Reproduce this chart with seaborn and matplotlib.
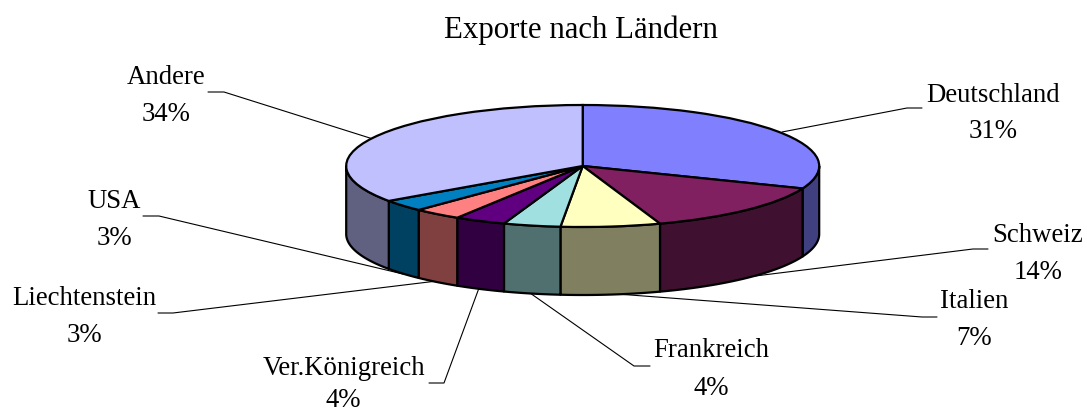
import numpy as np
import matplotlib
matplotlib.use("Agg")
import matplotlib.pyplot as plt
import seaborn as sns

# ---- data ----
countries = ["Deutschland", "Schweiz", "Italien", "Frankreich",
             "Ver.Königreich", "Liechtenstein", "USA", "Andere"]
shares = [31.0, 13.7, 6.8, 3.9, 3.5, 3.3, 3.1, 34.7]
share_labels = ["31%", "14%", "7%", "4%", "4%", "3%", "3%", "34%"]
title = "Exporte nach Ländern"

top_hex = ["#8080FF", "#802060", "#FFFFC0", "#A0E0E0",
           "#600080", "#FF8080", "#0080C0", "#C0C0FF"]

# ---- layout in pixels ----
W, H = 1087, 411
CX, CY, RX, RY, DEPTH = 582.7, 166.0, 236.5, 61.0, 68.0
# (x centre, name baseline, percent baseline)
label_xy = [(993, 101.5, 138), (1038, 242, 279), (974, 308, 345), (711.7, 357, 395),
            (343.7, 375, 407), (84.7, 305, 342), (114, 208, 245), (165.6, 84, 121)]
leaders = [
    [(782, 132), (907, 108), (922, 108)],
    [(747, 277), (973, 249), (988, 249)],
    [(617, 294), (922, 317), (937, 317)],
    [(530, 293), (634, 366), (650, 366)],
    [(479, 288), (444, 383), (429, 383)],
    [(437, 281), (173, 313), (158, 313)],
    [(403, 274), (159, 216), (143, 216)],
    [(373, 139), (224, 92), (208, 92)],
]

sns.set_theme(style="white")
plt.rcParams["font.family"] = ["Liberation Serif", "DejaVu Serif"]
top_colors = sns.color_palette(top_hex)
side_colors = [tuple(c * 0.5 for c in col) for col in top_colors]

fig = plt.figure(figsize=(W / 100, H / 100), dpi=100, facecolor="white")

# text + leader layer, in pixel coordinates, below the pie
ax_t = fig.add_axes([0, 0, 1, 1], zorder=1)
ax_t.set_xlim(0, W)
ax_t.set_ylim(H, 0)
ax_t.axis("off")
FS = 19.3
ax_t.text(581, 38, title, ha="center", va="baseline", fontsize=22.2, color="black")
for name, pct, (x, y0, y1), pts in zip(countries, share_labels, label_xy, leaders):
    ax_t.text(x, y0, name, ha="center", va="baseline", fontsize=FS, color="black")
    ax_t.text(x, y1, pct, ha="center", va="baseline", fontsize=FS, color="black")
    xs, ys = zip(*pts)
    ax_t.plot(xs, ys, color="black", lw=0.8, solid_joinstyle="miter")

# pie layer: one data unit is RX wide and RY tall, which flattens the circle
ax = fig.add_axes([0, 0, 1, 1], zorder=2)
ax.patch.set_alpha(0)

depth = DEPTH / RY
fracs = np.asarray(shares) / np.sum(shares)
edges = np.concatenate([[0], np.cumsum(fracs)]) * 2 * np.pi  # clockwise from 12 o'clock
for i, (a0, a1) in enumerate(zip(edges[:-1], edges[1:])):
    lo, hi = max(a0, np.pi / 2), min(a1, 3 * np.pi / 2)
    if hi <= lo:
        continue
    t = np.linspace(lo, hi, 80)
    px = np.sin(t)
    py = np.cos(t)
    ax.fill(np.r_[px, px[::-1]], np.r_[py, py[::-1] - depth],
            facecolor=side_colors[i], edgecolor="black", lw=1.6,
            joinstyle="round", zorder=1)

ax.pie(shares, colors=top_colors, startangle=90, counterclock=False,
       radius=1, center=(0, 0), frame=True,
       wedgeprops=dict(edgecolor="black", linewidth=1.6, zorder=2))
ax.set_aspect("auto")
ax.set_xlim(-CX / RX, (W - CX) / RX)
ax.set_ylim(-(H - CY) / RY, CY / RY)
ax.axis("off")

fig.savefig("out.png", dpi=100)
